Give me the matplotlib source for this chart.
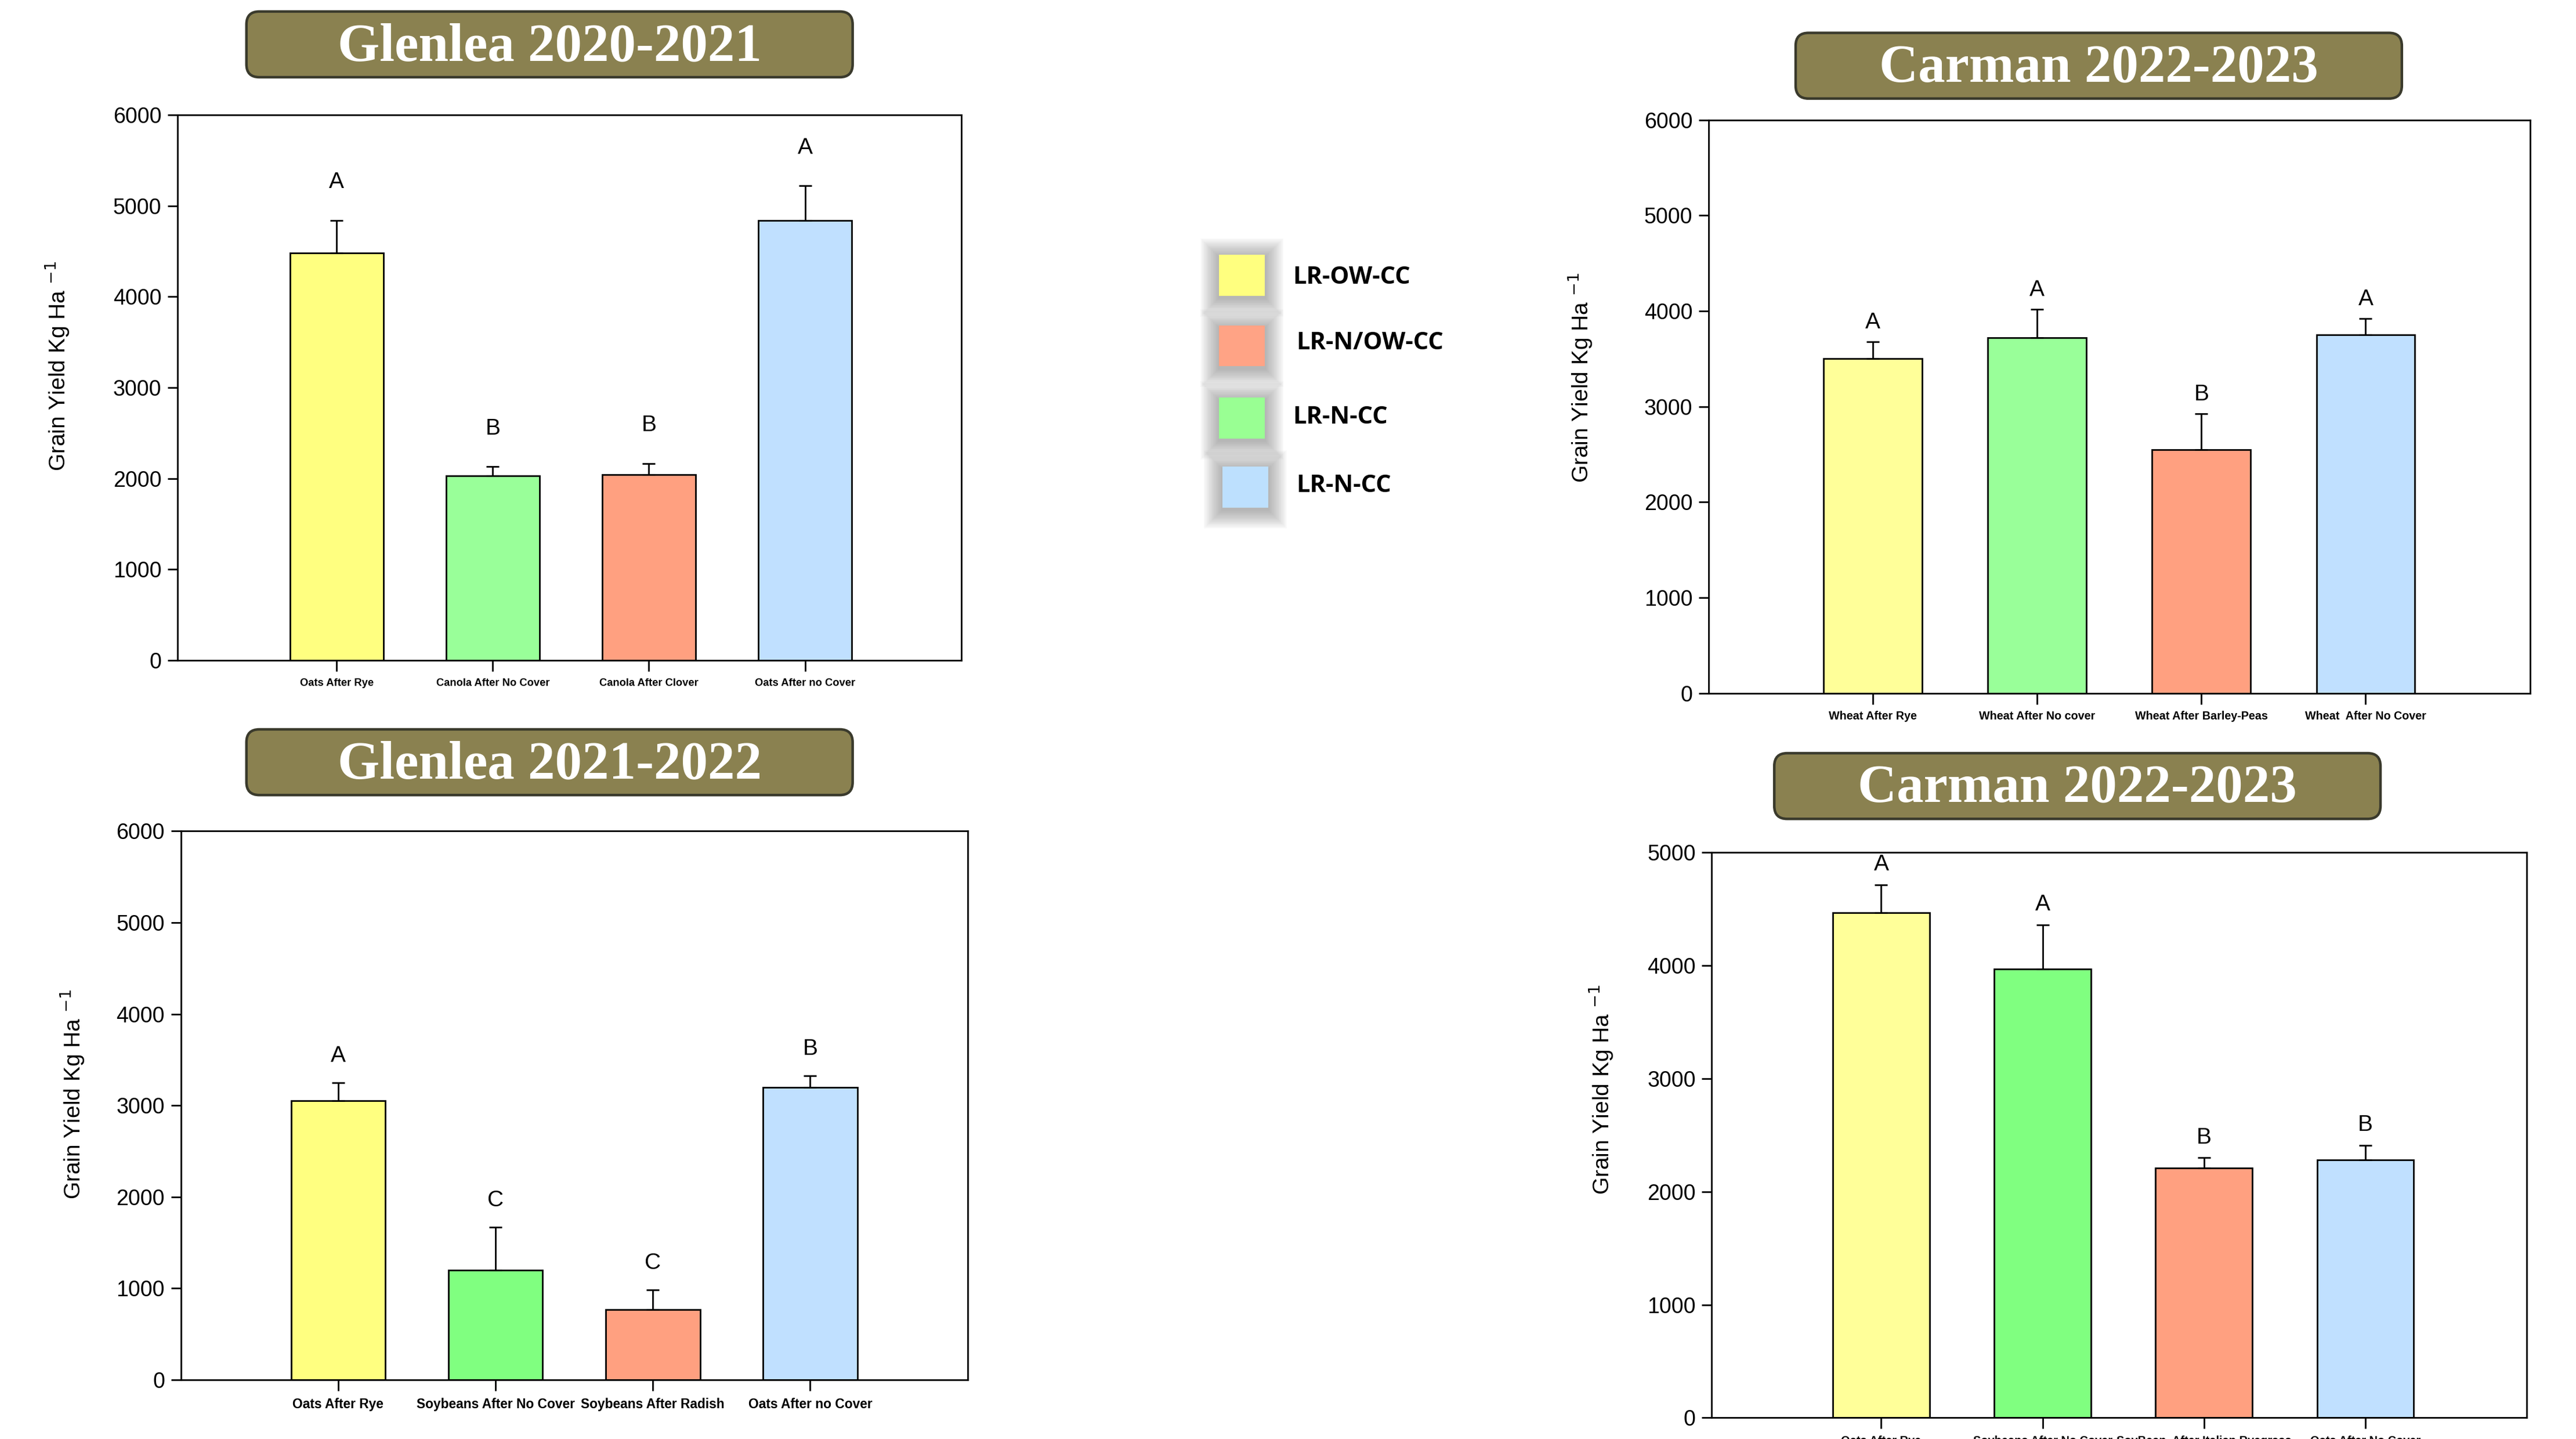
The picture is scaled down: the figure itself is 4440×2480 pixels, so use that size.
import numpy as np
import matplotlib.pyplot as plt
from matplotlib.patches import FancyBboxPatch, Rectangle

# Glenlea 2020-2021
g20_crops = ['Oats After Rye', 'Canola After No Cover', 'Canola After Clover', 'Oats After no Cover']
g20_yield = [4480, 2030, 2040, 4840]
g20_se = [360, 100, 125, 380]
g20_letters = ['A', 'B', 'B', 'A']

# Glenlea 2021-2022
g21_crops = ['Oats After Rye', 'Soybeans After No Cover', 'Soybeans After Radish', 'Oats After no Cover']
g21_yield = [3050, 1200, 770, 3200]
g21_se = [200, 470, 215, 125]
g21_letters = ['A', 'C', 'C', 'B']

# Carman 2022-2023, wheat
cw_crops = ['Wheat After Rye', 'Wheat After No cover', 'Wheat After Barley-Peas', 'Wheat  After No Cover']
cw_yield = [3500, 3720, 2550, 3750]
cw_se = [180, 300, 375, 170]
cw_letters = ['A', 'A', 'B', 'A']

# Carman 2022-2023, oats / soybean
co_crops = ['Oats After Rye', 'Soybeans After No Cover', 'SoyBean  After Italian Ryegrass', 'Oats After No Cover']
co_yield = [4470, 3970, 2210, 2280]
co_se = [245, 390, 90, 130]
co_letters = ['A', 'A', 'B', 'B']

legend_labels = ['LR-OW-CC', 'LR-N/OW-CC', 'LR-N-CC', 'LR-N-CC']
legend_colors = ['#FFFF7F', '#FFA385', '#99FF93', '#BDE0FE']

YEL, YEL2 = '#FFFF80', '#FFFF99'
GRN, GRN2 = '#99FF99', '#80FF80'
SAL = '#FFA080'
BLU = '#C0E0FF'

W, H = 4440, 2480
fig = plt.figure(figsize=(W / 200, H / 200), dpi=200)

NARROW = ['Liberation Sans Narrow', 'Liberation Sans', 'DejaVu Sans']
SANS = ['Liberation Sans', 'DejaVu Sans']


def draw_panel(rect, crops, yields, se, letters, colors, ymax, gap, xfont,
               xleft, label_xy):
    ax = fig.add_axes(rect)
    x = np.arange(len(crops))
    ax.bar(x, yields, width=0.6, color=colors, edgecolor='black',
           linewidth=1.0, zorder=2)
    ax.errorbar(x, yields, yerr=[np.zeros(len(se)), se], fmt='none',
                ecolor='black', elinewidth=1.0, capsize=4, capthick=1.0,
                zorder=3)
    for xi, top, lt in zip(x, np.add(yields, se), letters):
        ax.text(xi, top + gap, lt, ha='center', va='center', fontsize=14,
                family=SANS)
    ax.set_xlim(xleft, 4.0)
    ax.set_ylim(0, ymax)
    ax.set_yticks(np.arange(0, ymax + 1, 1000))
    ax.set_xticks(x)
    ax.set_xticklabels(crops, fontsize=xfont, fontweight='bold', family=NARROW)
    for lab in ax.get_yticklabels():
        lab.set_family(SANS)
        lab.set_fontsize(13.5)
    ax.tick_params(axis='y', direction='out', length=6, width=1.0, pad=4)
    ax.tick_params(axis='x', direction='out', length=7, width=1.0, pad=4)
    for sp in ax.spines.values():
        sp.set_linewidth(1.0)
    ax.set_ylabel(r'Grain Yield Kg Ha $^{\mathsf{-1}}$', fontsize=14,
                  family=NARROW)
    ax.yaxis.set_label_coords(*label_xy)
    return ax


def title_box(cx, cy, text):
    w, h = 369 / 1568, 40 / 876
    box = FancyBboxPatch((cx - w / 2, cy - h / 2), w, h,
                         boxstyle='round,pad=0,rounding_size=0.005',
                         mutation_aspect=W / H, transform=fig.transFigure,
                         facecolor='#8A8150', edgecolor='#3a3a2c',
                         linewidth=1.6)
    fig.patches.append(box)
    fig.text(cx, cy - 2 / 876, text, ha='center', va='center', color='white',
             fontsize=33.5, fontweight='bold', family='Liberation Serif')


draw_panel([0.0689, 0.5411, 0.3042, 0.3790], g20_crops, g20_yield, g20_se,
           g20_letters, [YEL, GRN, SAL, BLU], 6000, 420, 6.6, -1.02,
           (-0.136, 0.54))
draw_panel([0.0702, 0.0411, 0.3054, 0.3813], g21_crops, g21_yield, g21_se,
           g21_letters, [YEL, GRN2, SAL, BLU], 6000, 290, 8.2, -1.0,
           (-0.121, 0.52))
draw_panel([0.6633, 0.5183, 0.3188, 0.3984], cw_crops, cw_yield, cw_se,
           cw_letters, [YEL2, GRN, SAL, BLU], 6000, 200, 7.1, -1.0,
           (-0.14, 0.55))
draw_panel([0.6645, 0.0148, 0.3164, 0.3927], co_crops, co_yield, co_se,
           co_letters, [YEL2, GRN2, SAL, BLU], 5000, 178, 7.2, -1.05,
           (-0.119, 0.58))

title_box(334.5 / 1568, 1 - 27 / 876, 'Glenlea 2020-2021')
title_box(334.5 / 1568, 1 - 464 / 876, 'Glenlea 2021-2022')
title_box(1277.5 / 1568, 1 - 40 / 876, 'Carman 2022-2023')
title_box(1264.5 / 1568, 1 - 478.5 / 876, 'Carman 2022-2023')

# legend swatches with a soft drop shadow
swatch_pos = [(742, 155), (742, 198), (742, 242), (744, 284)]
text_pos = [(787, 169), (789, 209), (787, 254), (789, 296)]
sw, sh = 28 / 1568, 25 / 876
for (px, py), (tx, ty), col, lab in zip(swatch_pos, text_pos,
                                        legend_colors, legend_labels):
    x0, y0 = px / 1568, 1 - py / 876 - sh
    for k in range(20, 0, -1):
        dx = k * 1.6 / W
        dy = k * 1.6 / H
        fig.patches.append(Rectangle((x0 - dx, y0 - dy - 4 / H),
                                     sw + 2 * dx, sh + 2 * dy,
                                     transform=fig.transFigure,
                                     facecolor='#666666', edgecolor='none',
                                     alpha=0.028))
    fig.patches.append(Rectangle((x0, y0), sw, sh, transform=fig.transFigure,
                                 facecolor=col, edgecolor='none'))
    fig.text(tx / 1568, 1 - ty / 876, lab, ha='left', va='center',
             fontsize=15, fontweight='bold', family=['Open Sans', 'DejaVu Sans'])

fig.savefig('out.png', dpi=200, facecolor='white')
